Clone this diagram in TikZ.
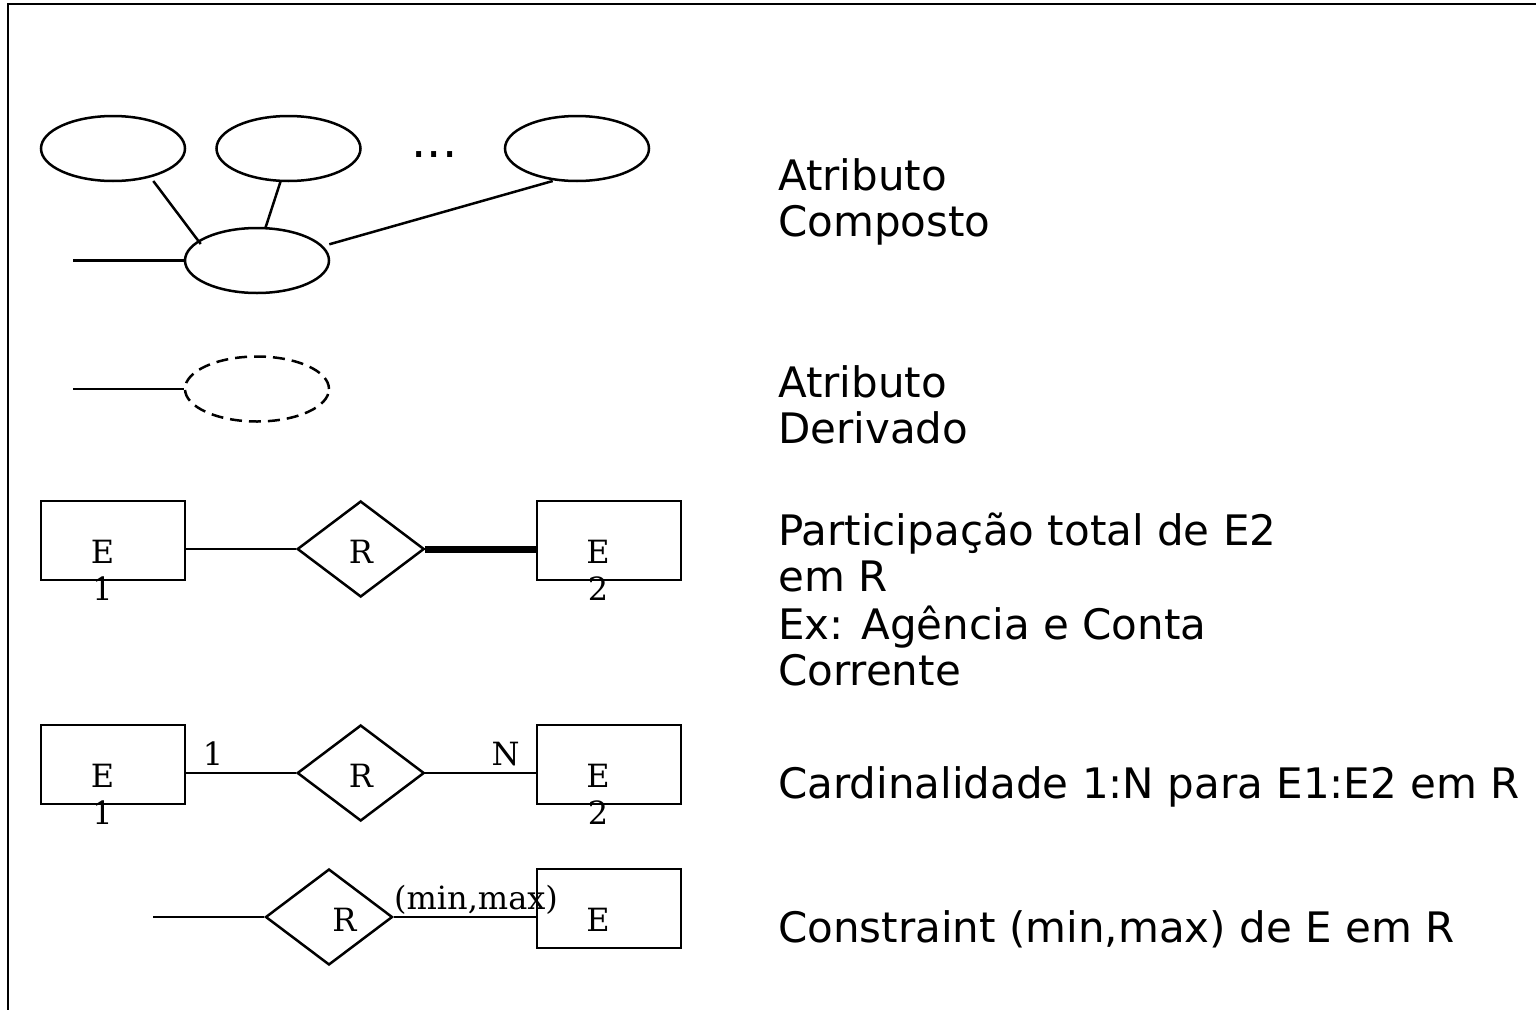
\documentclass[tikz,border=0pt]{standalone}
\usepackage{fontspec}
\setmainfont{DejaVu Sans}
\newfontfamily\erfont{DejaVu Serif}
\usetikzlibrary{shapes.geometric,calc}
\tikzset{
  ln/.style={line width=2.5pt},
  attr/.style={draw, ellipse, line width=2.5pt, minimum width=144pt, minimum height=65pt, inner sep=0pt},
  ent/.style={draw, rectangle, line width=2.5pt, minimum width=144pt, minimum height=79pt, inner sep=0pt},
  rel/.style={draw, diamond, line width=2.5pt, minimum width=127pt, minimum height=96pt, inner sep=0pt},
  lbl/.style={anchor=base, inner sep=0pt, font=\erfont\fontsize{32}{37}\selectfont},
  desc/.style={anchor=base west, inner sep=0pt, font=\fontsize{42}{46.5}\selectfont},
}
\begin{document}
\begin{tikzpicture}[x=1pt, y=-1pt]
\useasboundingbox (0,0) rectangle (1536,1009);
% frame
\draw[line width=2.6pt] (8,1012) -- (8,4) -- (1540,4);

% composite attribute
\node[attr] (a1) at (113,148.5) {};
\node[attr] (a2) at (288.5,148.5) {};
\node[attr] (a3) at (577,148.5) {};
\node[anchor=base, inner sep=0pt, font=\fontsize{48}{52}\selectfont] (dots) at (434.5,157) {...};
\node[attr] (c) at (257,260.5) {};
\coordinate (cl) at (73,260.5);
\draw[ln] (cl) -- (c.west);
\draw[ln] ($(a1.center)+(40.3,32.5)$) -- ($(c.center)+(-56.3,-16.5)$);
\draw[ln] ($(a2.center)+(-7.8,32.5)$) -- ($(c.center)+(8.3,-32.2)$);
\draw[ln] ($(a3.center)+(-24.3,32.5)$) -- ($(c.center)+(72.3,-16.2)$);

% derived attribute
\node[attr, dash pattern=on 12pt off 7pt] (d) at (257,389) {};
\coordinate (dl) at (73,389);
\draw[ln] (dl) -- (d.west);

% total participation
\node[ent] (e1a) at (113,540.5) {};
\node[rel] (r3) at (360.7,549) {};
\node[ent] (e2a) at (609,540.5) {};
\draw[ln] (r3.west -| e1a.east) -- (r3.west);
\draw[line width=7pt] (r3.east) -- (r3.east -| e2a.west);
\node[lbl] (t1a) at (102.5,563) {\begin{tabular}[t]{@{}c@{}}E\\1\end{tabular}};
\node[lbl] (tr3) at (361,563) {R};
\node[lbl] (t2a) at (598,563) {\begin{tabular}[t]{@{}c@{}}E\\2\end{tabular}};

% cardinality
\node[ent] (e1b) at (113,764.5) {};
\node[rel] (r4) at (360.7,773) {};
\node[ent] (e2b) at (609,764.5) {};
\draw[ln] (r4.west -| e1b.east) -- (r4.west);
\draw[ln] (r4.east) -- (r4.east -| e2b.west);
\node[lbl] (t1b) at (102.5,787) {\begin{tabular}[t]{@{}c@{}}E\\1\end{tabular}};
\node[lbl] (tr4) at (361,787) {R};
\node[lbl] (t2b) at (598,787) {\begin{tabular}[t]{@{}c@{}}E\\2\end{tabular}};
\node[lbl] (c1) at (213,765) {1};
\node[lbl] (cN) at (505.5,765) {N};

% (min,max)
\node[rel] (r5) at (329,917) {};
\node[ent] (e3) at (609,908.5) {};
\coordinate (rl) at (153,917);
\draw[ln] (rl) -- (r5.west);
\draw[ln] (r5.east) -- (r5.east -| e3.west);
\node[lbl] (tr5) at (344.5,931) {R};
\node[lbl] (te3) at (598,931) {E};
\node[lbl] (mm) at (476,909) {(min,max)};

% descriptions
\node[desc] (x1) at (778,190) {\begin{tabular}[t]{@{}l@{}}Atributo\\Composto\end{tabular}};
\node[desc] (x2) at (778,397) {\begin{tabular}[t]{@{}l@{}}Atributo\\Derivado\end{tabular}};
\node[desc] (x3) at (778,545) {\begin{tabular}[t]{@{}l@{}}Participação total de E2\\em R\\Ex: Agência e Conta\\Corrente\end{tabular}};
\node[desc] (x4) at (778,798) {Cardinalidade 1:N para E1:E2 em R};
\node[desc] (x5) at (778,942) {Constraint (min,max) de E em R};
\end{tikzpicture}
\end{document}
